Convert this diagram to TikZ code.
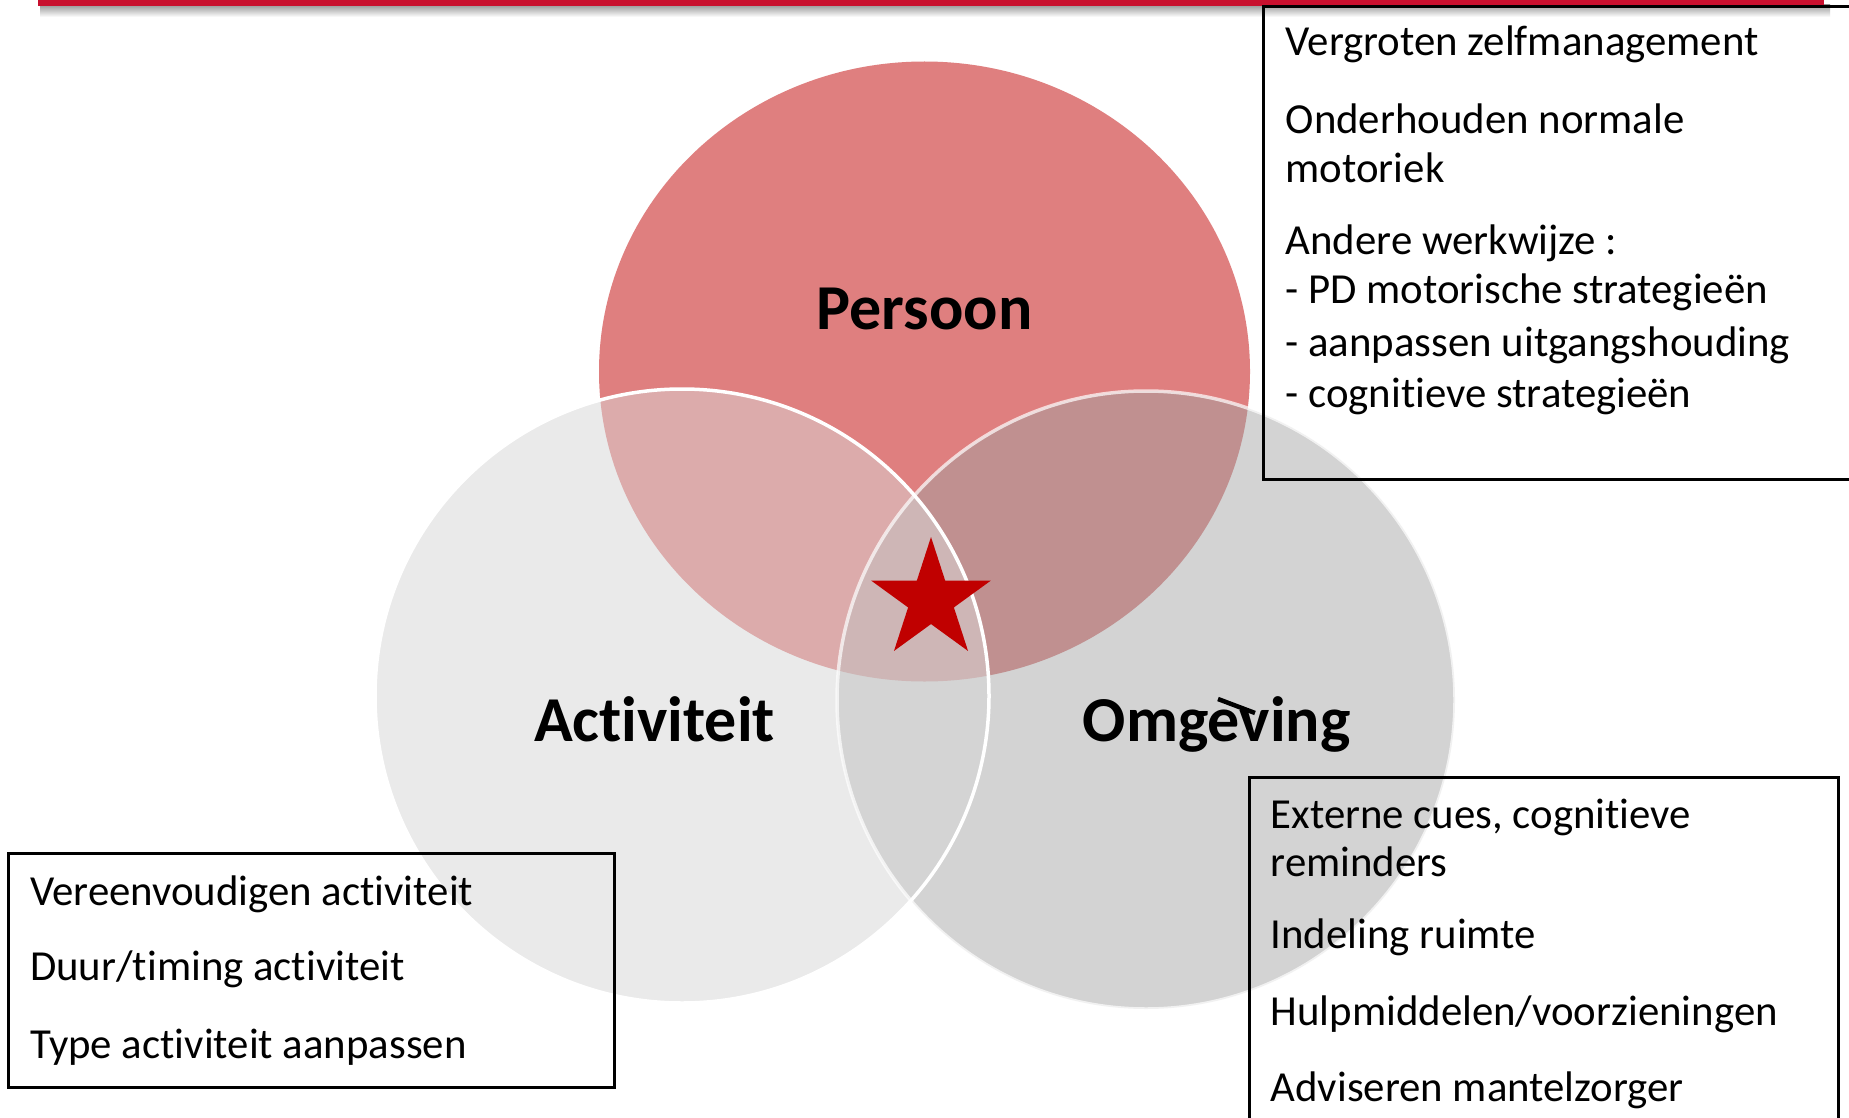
\documentclass[tikz,border=0pt]{standalone}
\usepackage{fontspec}
\setmainfont{Carlito}[Ligatures=NoCommon]
\usetikzlibrary{shapes.geometric}
\definecolor{persoonc}{RGB}{223,127,127}
\definecolor{actc}{RGB}{234,234,234}
\definecolor{omgc}{RGB}{211,211,211}
\definecolor{pac}{RGB}{220,171,171}
\definecolor{poc}{RGB}{192,144,144}
\definecolor{aoc}{RGB}{212,212,212}
\definecolor{paoc}{RGB}{206,182,182}
\definecolor{starred}{RGB}{192,0,0}
\definecolor{barred}{RGB}{200,16,46}
\def\persoonpath{(924.5,371.5) ellipse [x radius=325.5, y radius=310]}
\def\activpath{(682,696) circle [radius=307]}
\def\omgpath{(1146,700) circle [radius=309]}
\begin{document}
\begin{tikzpicture}[x=1pt,y=-1pt,
  lbl/.style={font=\fontsize{64}{76}\selectfont\bfseries, anchor=base, inner sep=0},
  txt/.style={font=\fontsize{42.8}{51}\selectfont, anchor=base west, inner sep=0},
  boxframe/.style={draw=black, line width=2.6pt, inner sep=0, anchor=north west}]
\useasboundingbox (0,0) rectangle (1849,1118);
\fill[white] (0,0) rectangle (1849,1118);
% top bar with shadow
\shade[top color=black!40, bottom color=white] (40,5) rectangle (1830,17);
\fill[barred] (38,0) rectangle (1824,6);
% venn regions
\fill[persoonc] \persoonpath;
\fill[actc] \activpath;
\fill[omgc] \omgpath;
\begin{scope}
  \clip \persoonpath;
  \fill[pac] \activpath;
  \fill[poc] \omgpath;
\end{scope}
\begin{scope}
  \clip \activpath;
  \fill[aoc] \omgpath;
\end{scope}
\begin{scope}
  \clip \persoonpath;
  \clip \activpath;
  \fill[paoc] \omgpath;
\end{scope}
\draw[white, line width=3.5pt] \activpath;
\draw[white, opacity=0.7, line width=3.5pt] \omgpath;
% star
\node[star, star points=5, star point ratio=2.618, minimum size=126pt, inner sep=0, fill=starred] (star) at (931,600) {};
% labels
\node[lbl] (persoon) at (924.5,329) {Persoon};
\node[lbl] (activiteit) at (654.5,741) {Activiteit};
\node[lbl] (omgeving) at (1216.7,741) {Omgeving};
\draw[black, line width=4.5pt] (1218,699) -- (1255,713);
% boxes
\node[boxframe, minimum width=640pt, minimum height=473pt] (boxP) at (1262,5) {};
\node[boxframe, minimum width=589pt, minimum height=400pt] (boxO) at (1248,776) {};
\node[boxframe, minimum width=606pt, minimum height=234pt] (boxA) at (7,852) {};
% texts top right
\node[txt] (p1) at (1285.5,56) {Vergroten zelfmanagement};
\node[txt] (p2) at (1285.5,133.3) {Onderhouden normale};
\node[txt] (p3) at (1285.5,182.7) {motoriek};
\node[txt] (p4) at (1285.5,254) {Andere werkwijze :};
\node[txt] (p5) at (1285.5,303.3) {- PD motorische strategieën};
\node[txt] (p6) at (1285.5,356) {- aanpassen uitgangshouding};
\node[txt] (p7) at (1285.5,407.3) {- cognitieve strategieën};
% texts bottom right
\node[txt] (o1) at (1270.5,828.3) {Externe cues, cognitieve};
\node[txt] (o2) at (1270.5,876.7) {reminders};
\node[txt] (o3) at (1270.5,948.3) {Indeling ruimte};
\node[txt] (o4) at (1270.5,1025) {Hulpmiddelen/voorzieningen};
\node[txt] (o5) at (1270.5,1101.7) {Adviseren mantelzorger};
% texts bottom left
\node[txt] (a1) at (30,905.7) {Vereenvoudigen activiteit};
\node[txt] (a2) at (30,980) {Duur/timing activiteit};
\node[txt] (a3) at (30,1058.3) {Type activiteit aanpassen};
\end{tikzpicture}
\end{document}
